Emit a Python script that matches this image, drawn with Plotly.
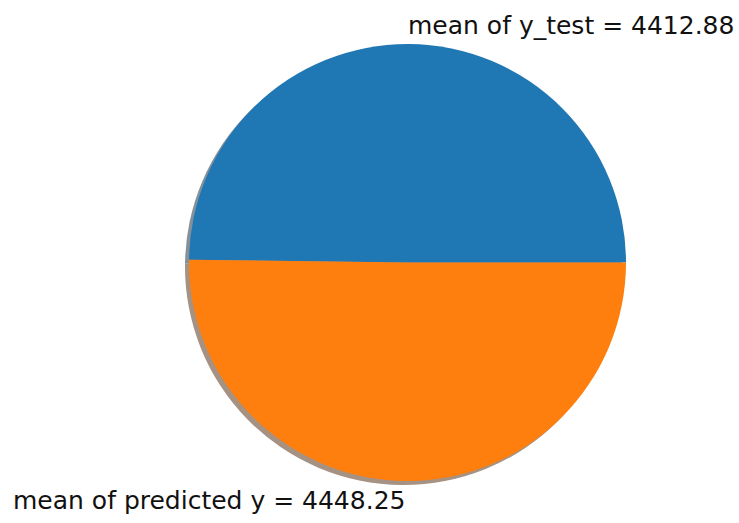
import plotly.graph_objects as go

labels = ["mean of y_test = 4412.88", "mean of predicted y = 4448.25"]
values = [4412.88, 4448.25]
colors = ["#1f77b4", "#ff7f0e"]
shadow_colors = ["rgb(132,145,154)", "rgb(166,146,130)"]

W, H = 739, 523
cx, cy, r = 407.5, 262.5, 218.5
dx, dy = -4, 4  # shadow offset in pixels (left, down)

# first wedge starts at 3 o'clock and runs counterclockwise;
# plotly's rotation marks where that wedge ends (clockwise from 12 o'clock)
blue_angle = 360 * values[0] / sum(values)
rot = -90 + (180 - blue_angle)


def dom(ox, oy):
    return dict(
        x=[(cx - r + ox) / W, (cx + r + ox) / W],
        y=[1 - (cy + r + oy) / H, 1 - (cy - r + oy) / H],
    )


fig = go.Figure()
# drop shadow underneath the pie
fig.add_trace(go.Pie(
    values=values, labels=labels, sort=False, direction="counterclockwise",
    rotation=rot, marker=dict(colors=shadow_colors, line=dict(width=0)),
    textinfo="none", hoverinfo="skip", showlegend=False, domain=dom(dx, dy),
))
fig.add_trace(go.Pie(
    values=values, labels=labels, sort=False, direction="counterclockwise",
    rotation=rot, marker=dict(colors=colors, line=dict(width=0)),
    textinfo="none", showlegend=False, domain=dom(0, 0),
))

fig.add_annotation(text=labels[0], x=406 / W, y=1 - 25 / H, xref="paper", yref="paper",
                   xanchor="left", yanchor="middle", showarrow=False)
fig.add_annotation(text=labels[1], x=407 / W, y=1 - 500 / H, xref="paper", yref="paper",
                   xanchor="right", yanchor="middle", showarrow=False)

fig.update_layout(
    width=W, height=H, margin=dict(l=0, r=0, t=0, b=0),
    paper_bgcolor="white", plot_bgcolor="white",
    font=dict(family="DejaVu Sans", size=25, color="#111111"),
)
fig.write_html("out.html")
